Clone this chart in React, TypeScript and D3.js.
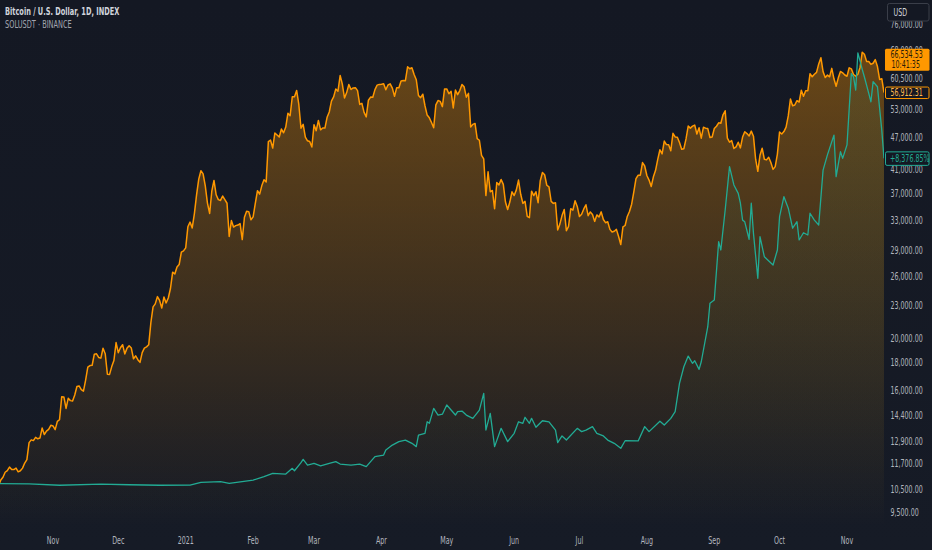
import React from "react";
import * as d3 from "d3";

// ---------- DATA ----------
// Bitcoin / U.S. Dollar daily closes, starting 2020-10-07
const btcStart = "2020-10-07";
const btcClose: number[] = [
  // Oct 2020 (7..31)
  10670, 10930, 11060, 11300, 11380, 11550, 11430, 11430, 11500, 11320, 11370, 11500, 11750, 11920, 12820, 12970, 12930, 13110, 13030, 13070, 13640, 13270, 13460, 13560, 13800,
  // Nov 2020
  13760, 13550, 14030, 14130, 15580, 15570, 14830, 15480, 15330, 15300, 15700, 16280, 16320, 16070, 15960, 16730, 17680, 17800, 17820, 18680, 18710, 18420, 18370, 19160, 18720, 17150, 17140, 17720, 18180, 19630,
  // Dec 2020
  18800, 19200, 19450, 18700, 19150, 19360, 19170, 18320, 18550, 18250, 18040, 18800, 19170, 19270, 19440, 21380, 22850, 23140, 23870, 23480, 22740, 23820, 23240, 23730, 24710, 26490, 26280, 27080, 27360, 28840, 29000,
  // Jan 2021
  29370, 32130, 32780, 31970, 33990, 36820, 39370, 40800, 40250, 38240, 35540, 34010, 37390, 39150, 36830, 36070, 35950, 36630, 36070, 35520, 30830, 33000, 32100, 32290, 32370, 32570, 30430, 33470, 34320, 34270, 33110,
  // Feb 2021
  33520, 35510, 37470, 36930, 38290, 39260, 38900, 46200, 46480, 44920, 47910, 47500, 47100, 48720, 47940, 49130, 52120, 51550, 55900, 55890, 57410, 54090, 48890, 49700, 47090, 46340, 46190, 45140,
  // Mar 2021
  49630, 48380, 50540, 48560, 48930, 48910, 51210, 52380, 54880, 55850, 57800, 57230, 61190, 59000, 55600, 56900, 58900, 57650, 58030, 58100, 57370, 54100, 54340, 52300, 51300, 55080, 55820, 55780, 57630, 58730, 58920,
  // Apr 2021
  58980, 59100, 57600, 58760, 59060, 58000, 56000, 58100, 58100, 59800, 59900, 59850, 63500, 62970, 63230, 61450, 60100, 56200, 55700, 56500, 53800, 51700, 51100, 50100, 49000, 54000, 55000, 54800, 53600, 57800,
  // May 2021
  57800, 56600, 57200, 53300, 57500, 56400, 57400, 58900, 58300, 55800, 56700, 49150, 49700, 49900, 46760, 46450, 43540, 42900, 36700, 40600, 37300, 37500, 34700, 38800, 38400, 39300, 38500, 35700, 34600, 35700, 37300,
  // Jun 2021
  36700, 37600, 39200, 36900, 35500, 35800, 33600, 33400, 37400, 36700, 37300, 35600, 39100, 40500, 40100, 38350, 38100, 35800, 35500, 35600, 31700, 32500, 33700, 34600, 31600, 32200, 34700, 34500, 35900, 35040,
  // Jul 2021
  33570, 33890, 34670, 35290, 33690, 34230, 33860, 32880, 33800, 33500, 34240, 33150, 32700, 32820, 31780, 31420, 31530, 31780, 30840, 29790, 32110, 32310, 33580, 34290, 35380, 37270, 39460, 40020, 40020, 42240, 41630,
  // Aug 2021
  39970, 39200, 38150, 39750, 40870, 42830, 44610, 43830, 46290, 45600, 45580, 44430, 47830, 47100, 47050, 45990, 44690, 44800, 46720, 49330, 48900, 49320, 49550, 47700, 48970, 46860, 49080, 48900, 48810, 46990, 47100,
  // Sep 2021
  48830, 49300, 50030, 49940, 51770, 52660, 46860, 46080, 46370, 44850, 45160, 46060, 44960, 47090, 48160, 47780, 47290, 48290, 47260, 42840, 40690, 43570, 44900, 42840, 42720, 43210, 42240, 41030, 41520, 43790,
  // Oct 2021
  48120, 47710, 48200, 49110, 51510, 55360, 53800, 53970, 54970, 54660, 57470, 56000, 57370, 57350, 61670, 60880, 61530, 62010, 64280, 66000, 62210, 60690, 61290, 60860, 63080, 60330, 58450, 60590, 62250, 61890, 61320,
  // Nov 2021 (1..18)
  61000, 63230, 62940, 61450, 61010, 61530, 63330, 67570, 66970, 64980, 64950, 64160, 64470, 65470, 63560, 60160, 60370, 56910,
];

// SOLUSDT (compare overlay, own linear scale)
const solDates: string[] = [
  "2020-10-07", "2020-10-21", "2020-11-04", "2020-11-23", "2020-12-06", "2020-12-20", "2021-01-03", "2021-01-08",
  "2021-01-17", "2021-01-21", "2021-02-01", "2021-02-06", "2021-02-10", "2021-02-16", "2021-02-19", "2021-02-20",
  "2021-02-23", "2021-02-24", "2021-02-26", "2021-03-01", "2021-03-04", "2021-03-08", "2021-03-11", "2021-03-13",
  "2021-03-18", "2021-03-22", "2021-03-25", "2021-03-29", "2021-04-02", "2021-04-03", "2021-04-06", "2021-04-09",
  "2021-04-12", "2021-04-15", "2021-04-17", "2021-04-18", "2021-04-21", "2021-04-22", "2021-04-23", "2021-04-25",
  "2021-04-27", "2021-04-29", "2021-05-01", "2021-05-05", "2021-05-06", "2021-05-08", "2021-05-10", "2021-05-13",
  "2021-05-16", "2021-05-18", "2021-05-19", "2021-05-21", "2021-05-23", "2021-05-26", "2021-05-29", "2021-06-01",
  "2021-06-03", "2021-06-05", "2021-06-06", "2021-06-08", "2021-06-09", "2021-06-11", "2021-06-14", "2021-06-17",
  "2021-06-20", "2021-06-21", "2021-06-23", "2021-06-25", "2021-06-30", "2021-07-02", "2021-07-04", "2021-07-07",
  "2021-07-09", "2021-07-12", "2021-07-14", "2021-07-17", "2021-07-20", "2021-07-22", "2021-07-28", "2021-07-31",
  "2021-08-02", "2021-08-07", "2021-08-09", "2021-08-12", "2021-08-14", "2021-08-16", "2021-08-18", "2021-08-20",
  "2021-08-22", "2021-08-23", "2021-08-25", "2021-08-26", "2021-08-29", "2021-08-30", "2021-09-01", "2021-09-03",
  "2021-09-04", "2021-09-06", "2021-09-08", "2021-09-10", "2021-09-12", "2021-09-13", "2021-09-14", "2021-09-15",
  "2021-09-17", "2021-09-18", "2021-09-19", "2021-09-21", "2021-09-22", "2021-09-24", "2021-09-28", "2021-09-30",
  "2021-10-01", "2021-10-03", "2021-10-05", "2021-10-07", "2021-10-09", "2021-10-10", "2021-10-12", "2021-10-14",
  "2021-10-15", "2021-10-17", "2021-10-19", "2021-10-21", "2021-10-23", "2021-10-26", "2021-10-27", "2021-10-29",
  "2021-10-30", "2021-11-01", "2021-11-03", "2021-11-04", "2021-11-05", "2021-11-06", "2021-11-08", "2021-11-09",
  "2021-11-11", "2021-11-12", "2021-11-13", "2021-11-15", "2021-11-17", "2021-11-18",
];
const solPrice: number[] = [
  2.2, 2.1, 1.3, 1.9, 1.6, 1.3, 1.4, 3.0,
  3.4, 2.4, 4.3, 6.3, 8.2, 7.8, 11.1, 9.7,
  14.4, 16.3, 13.0, 14.0, 12.5, 14.0, 15.0, 13.6,
  13.0, 13.6, 12.1, 17.9, 18.8, 21.7, 24.6, 26.6,
  27.5, 25.6, 23.7, 30.4, 31.4, 38.1, 37.2, 45.9,
  42.0, 42.5, 47.8, 42.0, 44.0, 44.3, 42.0, 40.1,
  44.9, 54.6, 33.3, 43.0, 23.7, 34.3, 26.6, 31.4,
  38.1, 37.2, 40.7, 37.2, 40.1, 34.9, 38.7, 38.1,
  33.3, 26.0, 29.9, 27.5, 34.3, 32.4, 33.3, 35.3,
  31.4, 29.9, 27.5, 25.6, 22.7, 27.1, 27.0, 35.3,
  32.4, 38.4, 36.2, 40.1, 44.0, 60.4, 70.0, 76.2,
  72.0, 73.5, 68.5, 72.9, 93.2, 106.8, 108.7, 142.5,
  137.7, 160.9, 186.0, 175.4, 170.5, 164.8, 155.0, 154.0,
  143.9, 164.8, 147.4, 121.3, 145.4, 133.8, 129.0, 137.7,
  157.0, 168.6, 161.9, 150.3, 154.1, 143.5, 147.7, 146.4,
  159.0, 155.0, 152.2, 184.0, 192.8, 204.3, 180.2, 194.7,
  190.8, 198.6, 240.0, 238.0, 230.4, 252.0, 242.4, 238.0,
  228.5, 223.6, 235.3, 232.3, 207.0, 190.8,
];

// price-scale tick labels (right axis)
const priceTicks: number[] = [
  76000, 68000, 60500, 53000, 47000, 41000, 37000, 33000, 29000, 26000, 23000,
  20000, 18000, 16000, 14400, 12900, 11700, 10500, 9500,
];
// time-axis ticks
const monthTicks: string[] = [
  "2020-11-01", "2020-12-01", "2021-01-01", "2021-02-01", "2021-03-01", "2021-04-01",
  "2021-05-01", "2021-06-01", "2021-07-01", "2021-08-01", "2021-09-01", "2021-10-01", "2021-11-01",
];

const titleMain = "Bitcoin / U.S. Dollar, 1D, INDEX";
const titleCompare = "SOLUSDT · BINANCE";
const lastPriceLabel = "66,534.53";
const countdownLabel = "10:41:35";
const closeLabel = "56,912.31";
const compareLabel = "+8,376.85%";
const currencyLabel = "USD";

// ---------- LAYOUT ----------
const W = 932;
const H = 550;
const plotRight = 884;
const plotBottom = 527;
const SX = 0.66; // horizontal squeeze of glyphs as in the reference
const FONT = "'DejaVu Sans', sans-serif";
const BG = "#141823";
const ORANGE = "#ff9800";
const TEAL = "#22ab94";
const AXIS_TEXT = "#b2b5be";

const parse = d3.timeParse("%Y-%m-%d");

function T(props: {
  x: number;
  y: number;
  children: React.ReactNode;
  anchor?: string;
  size?: number;
  fill?: string;
  weight?: number | string;
}) {
  const { x, y, children, anchor = "start", size = 9.6, fill = AXIS_TEXT, weight = 400 } = props;
  return (
    <text
      transform={`translate(${x},${y}) scale(${SX},1)`}
      textAnchor={anchor as any}
      fontSize={size}
      fontFamily={FONT}
      fontWeight={weight as any}
      fill={fill}
    >
      {children}
    </text>
  );
}

export default function App() {
  const start = parse(btcStart)!;
  const btc = btcClose.map((v, i) => ({ date: d3.timeDay.offset(start, i), v }));
  const sol = solDates.map((d, i) => ({ date: parse(d)!, v: solPrice[i] }));
  const ticksX = monthTicks.map((d) => parse(d)!);

  const x = d3
    .scaleTime()
    .domain([parse("2020-11-01")!, parse("2021-11-01")!])
    .range([53, 847]);
  const y = d3.scaleLog().domain([9500, 76000]).range([513, 24.6]);
  const ySol = d3.scaleLinear().domain([0, 250]).range([487.5, 56.25]);

  const btcLine = d3
    .line<{ date: Date; v: number }>()
    .x((d) => x(d.date))
    .y((d) => y(d.v));
  const btcArea = d3
    .area<{ date: Date; v: number }>()
    .x((d) => x(d.date))
    .y0(plotBottom)
    .y1((d) => y(d.v));
  const solLine = d3
    .line<{ date: Date; v: number }>()
    .x((d) => x(d.date))
    .y((d) => ySol(d.v));
  const solArea = d3
    .area<{ date: Date; v: number }>()
    .x((d) => x(d.date))
    .y0(plotBottom)
    .y1((d) => ySol(d.v));

  const fmtTick = d3.format(",.2f");
  const fmtMonth = (d: Date) => (d.getMonth() === 0 ? d3.timeFormat("%Y")(d) : d3.timeFormat("%b")(d));

  const lastBtc = btc[btc.length - 1];
  const lastSol = sol[sol.length - 1];
  const yClose = y(lastBtc.v);
  const yLast = y(66534.53);
  const yCmp = ySol(lastSol.v);

  return (
    <svg
      width={W}
      height={H}
      viewBox={`0 0 ${W} ${H}`}
      style={{ position: "fixed", left: 0, top: 0, display: "block" }}
    >
      <defs>
        <linearGradient id="bg" x1="0" y1="0" x2="0" y2={H} gradientUnits="userSpaceOnUse">
          <stop offset="0" stopColor="#141823" />
          <stop offset="1" stopColor="#161b26" />
        </linearGradient>
        <linearGradient id="btcFill" x1="0" y1="50" x2="0" y2={plotBottom} gradientUnits="userSpaceOnUse">
          <stop offset="0" stopColor={ORANGE} stopOpacity={0.36} />
          <stop offset="1" stopColor={ORANGE} stopOpacity={0.0} />
        </linearGradient>
        <linearGradient id="solFill" x1="0" y1="50" x2="0" y2={plotBottom} gradientUnits="userSpaceOnUse">
          <stop offset="0" stopColor={TEAL} stopOpacity={0.08} />
          <stop offset="1" stopColor={TEAL} stopOpacity={0.0} />
        </linearGradient>
        <clipPath id="plot">
          <rect x={0} y={0} width={plotRight} height={plotBottom} />
        </clipPath>
      </defs>

      <rect x={0} y={0} width={W} height={H} fill="url(#bg)" />

      <g clipPath="url(#plot)">
        <path d={btcArea(btc) ?? ""} fill="url(#btcFill)" />
        <path d={solArea(sol) ?? ""} fill="url(#solFill)" />
        <path d={btcLine(btc) ?? ""} fill="none" stroke={ORANGE} strokeWidth={1.5} strokeLinejoin="round" />
        <path d={solLine(sol) ?? ""} fill="none" stroke={TEAL} strokeWidth={1.3} strokeLinejoin="round" />
      </g>

      {/* legend */}
      <T x={5} y={15} size={10} fill="#d1d4dc" weight={700}>
        {titleMain}
      </T>
      <T x={5} y={27.5} size={10} fill="#a3a6af">
        {titleCompare}
      </T>

      {/* right price axis */}
      {priceTicks.map((v) => (
        <T key={v} x={890.5} y={y(v) + 3.4}>
          {fmtTick(v)}
        </T>
      ))}

      {/* time axis */}
      {ticksX.map((d) => (
        <T key={d.toISOString()} x={x(d)} y={543.5} anchor="middle">
          {fmtMonth(d)}
        </T>
      ))}

      {/* currency box */}
      <rect x={887.5} y={3.5} width={41.5} height={17.5} rx={2} fill={BG} stroke="#3a3e49" />
      <T x={893.5} y={15.6} fill="#d1d4dc">
        {currencyLabel}
      </T>

      {/* last price + countdown */}
      <rect x={885} y={yLast - 7} width={44.5} height={22} rx={1.5} fill={ORANGE} />
      <T x={890.5} y={yLast + 2.5} fill="#2a1c08">
        {lastPriceLabel}
      </T>
      <T x={891.5} y={yLast + 12} fill="#2a1c08">
        {countdownLabel}
      </T>

      {/* close label */}
      <rect x={885.5} y={yClose - 5.5} width={43.5} height={11.5} rx={1.5} fill={BG} stroke={ORANGE} />
      <T x={890.5} y={yClose + 3.4} fill="#ffb74d">
        {closeLabel}
      </T>

      {/* compare label */}
      <rect x={885.5} y={yCmp - 6.5} width={43.5} height={13.5} rx={1.5} fill={BG} stroke={TEAL} />
      <T x={890} y={yCmp + 3.4} fill={TEAL}>
        {compareLabel}
      </T>
    </svg>
  );
}
